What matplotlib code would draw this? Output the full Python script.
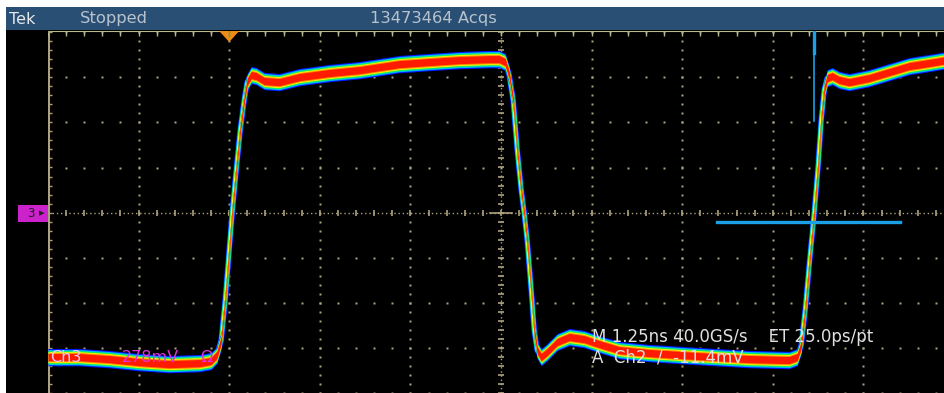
import numpy as np
import matplotlib
matplotlib.use("Agg")
import matplotlib.pyplot as plt
from matplotlib.patches import Rectangle, Polygon

# scope settings
t_div = 1.25      # ns per division
v_div = 278.0     # mV per division
trigger_t = 0.0   # ns
cursor_t = 8.07   # ns, vertical cursor
cursor_v = -58.0  # mV, horizontal cursor
cursor_span = [6.73, 9.25]

# waveform (ns, mV)
t_ns = [-2.50, -2.07, -1.66, -1.24, -0.83, -0.41, -0.25, -0.17, -0.11, -0.055,
        0.0, 0.041, 0.097, 0.152, 0.207, 0.248, 0.304, 0.373, 0.483, 0.690,
        0.966, 1.380, 1.794, 2.345, 2.759, 3.173, 3.587, 3.725, 3.808, 3.863,
        3.918, 3.974, 4.029, 4.070, 4.111, 4.167, 4.208, 4.249, 4.305, 4.387,
        4.525, 4.691, 4.898, 5.105, 5.381, 5.795, 6.485, 7.174, 7.726, 7.837,
        7.892, 7.947, 8.002, 8.071, 8.126, 8.168, 8.209, 8.251, 8.320, 8.416,
        8.554, 8.830, 9.106, 9.382, 9.658, 9.90]
v_mv = [-891, -891, -903, -922, -934, -928, -915, -878, -786, -539,
        -231, -3, 262, 509, 693, 804, 848, 841, 811, 804,
        835, 860, 878, 915, 928, 940, 946, 946, 928, 848,
        693, 385, 139, -3, -170, -478, -724, -848, -891, -860,
        -798, -767, -780, -811, -848, -866, -885, -903, -909, -891,
        -817, -601, -324, -3, 293, 570, 755, 829, 841, 817,
        804, 829, 866, 903, 922, 940]

header_left = "Tek"
header_state = "Stopped"
header_acqs = "13473464 Acqs"
readout_1 = "M 1.25ns 40.0GS/s    ET 25.0ps/pt"
readout_2 = "A  Ch2  /  -11.4mV"
ch_label = "Ch3"
ch_scale = "278mV"
ch_term = "\u03a9"

W, H = 945, 393
fig = plt.figure(figsize=(W / 100, H / 100), dpi=100, facecolor="white")

def fx(x):
    return x / W

def fy(y):
    return 1 - y / H

# screen background and header bar
fig.patches.append(Rectangle((fx(6), 0), fx(W - 6), fy(29), transform=fig.transFigure,
                             facecolor="black", edgecolor="none", zorder=-2))
fig.patches.append(Rectangle((fx(6), fy(30)), fx(W - 6), (30 - 7) / H, transform=fig.transFigure,
                             facecolor="#2a4f74", edgecolor="none", zorder=-1))

ax = fig.add_axes([fx(48), 0, fx(W - 48), (H - 31) / H])
ax.set_facecolor("black")
x0 = -2 * t_div
px_t = t_div / 90.6
px_v = v_div / 45.1
ax.set_xlim(x0, x0 + (W - 48) * px_t)
ax.set_ylim(-4 * v_div, -4 * v_div + (H - 31) * px_v)
ax.axis("off")

grid_c = "#ada27f"
# dotted graticule
for k in range(1, 11):
    xv = x0 + k * t_div
    if k == 5:
        continue
    ys = np.arange(-4, 4.01, 0.2) * v_div
    ax.plot(np.full_like(ys, xv), ys, ls="none", marker="s", ms=1.5, mec="none", mfc=grid_c, zorder=1)
for m in range(-4, 5):
    if m == 0:
        continue
    xs = x0 + np.arange(0, 10.01, 0.2) * t_div
    ax.plot(xs, np.full_like(xs, m * v_div), ls="none", marker="s", ms=1.5, mec="none", mfc=grid_c, zorder=1)

# center cross
xc = x0 + 5 * t_div
ax.axhline(0, color=grid_c, lw=1, ls=(0, (1, 2)), zorder=1)
ax.axvline(xc, color=grid_c, lw=1, ls=(0, (1, 2)), zorder=1)
xt = x0 + np.arange(0, 10.01, 0.2) * t_div
ax.plot(xt, np.zeros_like(xt), ls="none", marker="|", ms=4, mew=1.2, color=grid_c, zorder=1)
yt = np.arange(-4, 4.01, 0.2) * v_div
ax.plot(np.full_like(yt, xc), yt, ls="none", marker="_", ms=5, mew=1.2, color=grid_c, zorder=1)
ax.plot([xc - 0.15, xc + 0.15], [0, 0], color=grid_c, lw=1.2, zorder=1)

# border with ticks (top and left)
top_v = -4 * v_div + (H - 31) * px_v
ax.axhline(top_v - 0.5 * px_v, color="#b4bb8e", lw=1.5, zorder=2)
ax.axvline(x0 + 0.5 * px_t, color=grid_c, lw=1.5, zorder=2)
ax.plot(xt, np.full_like(xt, top_v - 2.5 * px_v), ls="none", marker="|", ms=3, mew=1, color="#b4bb8e", zorder=2)
ax.plot(np.full_like(yt, x0 + 2 * px_t), yt, ls="none", marker="_", ms=3, mew=1, color=grid_c, zorder=2)

# persistence trace: edge line first, then vertical noise bands
t = np.array(t_ns)
v = np.array(v_mv, dtype=float)
for col, w in [("#0018ff", 4.2), ("#00c0ff", 3.4), ("#20ff40", 2.6), ("#ffff10", 1.8)]:
    ax.plot(t, v, color=col, lw=w, solid_joinstyle="round", zorder=3)
bands = [(8.7, "#0018ff"), (7.6, "#00b8ff"), (6.6, "#10f060"), (5.5, "#f8f800"),
         (4.6, "#ff9000"), (3.6, "#ff1a00")]
for hw, col in bands:
    ax.fill_between(t, v - hw * px_v, v + hw * px_v, color=col, lw=0, zorder=4)

# cursors
cur_c = "#1aa0e6"
ax.plot([cursor_t, cursor_t], [top_v - 22 * px_v, top_v], color=cur_c, lw=2.4, zorder=5)
ax.plot([cursor_t, cursor_t], [top_v - 90 * px_v, top_v], color=cur_c, lw=1.2, zorder=5)
ax.plot(cursor_span, [cursor_v, cursor_v], color=cur_c, lw=2.4, zorder=5)

# trigger marker
tri = Polygon([[trigger_t - 10 * px_t, top_v], [trigger_t + 10 * px_t, top_v],
               [trigger_t, top_v - 11 * px_v]], closed=True, facecolor="#f08a10",
              edgecolor="none", zorder=6, clip_on=False)
ax.add_patch(tri)
ax.plot([trigger_t, trigger_t], [top_v - 5 * px_v, top_v], color="#40a0a0", lw=1, zorder=7)

# channel marker
fig.patches.append(Rectangle((fx(18), fy(222)), 30 / W, 17 / H, transform=fig.transFigure,
                             facecolor="#cc22cc", edgecolor="none", zorder=5))
fig.text(fx(31), fy(213.5), "3", color="#202020", fontsize=9, ha="center", va="center",
         family="DejaVu Sans Mono", zorder=6)
fig.text(fx(42), fy(213.5), "\u25b8", color="#202020", fontsize=8, ha="center", va="center", zorder=6)

# header text
fig.text(fx(9), fy(19), header_left, color="#e6e8ea", fontsize=11.5, va="center", ha="left")
fig.text(fx(80), fy(19), header_state, color="#b8c2cc", fontsize=11.8, va="center", ha="left")
fig.text(fx(370), fy(19), header_acqs, color="#b8c2cc", fontsize=11.8, va="center", ha="left")

# readouts
fig.text(fx(592), fy(337), readout_1, color="#e0e0e0", fontsize=12, va="center", ha="left", zorder=10)
fig.text(fx(592), fy(358), readout_2, color="#e0e0e0", fontsize=12, va="center", ha="left", zorder=10)
fig.text(fx(50), fy(357), ch_label, color="#f4c8f4", fontsize=11.5, va="center", ha="left", zorder=10)
fig.text(fx(122), fy(357), ch_scale, color="#e030e0", fontsize=11.5, va="center", ha="left", zorder=10)
fig.text(fx(200), fy(357), ch_term, color="#e030e0", fontsize=11.5, va="center", ha="left", zorder=10)

fig.savefig("out.png", dpi=100, facecolor="white")
